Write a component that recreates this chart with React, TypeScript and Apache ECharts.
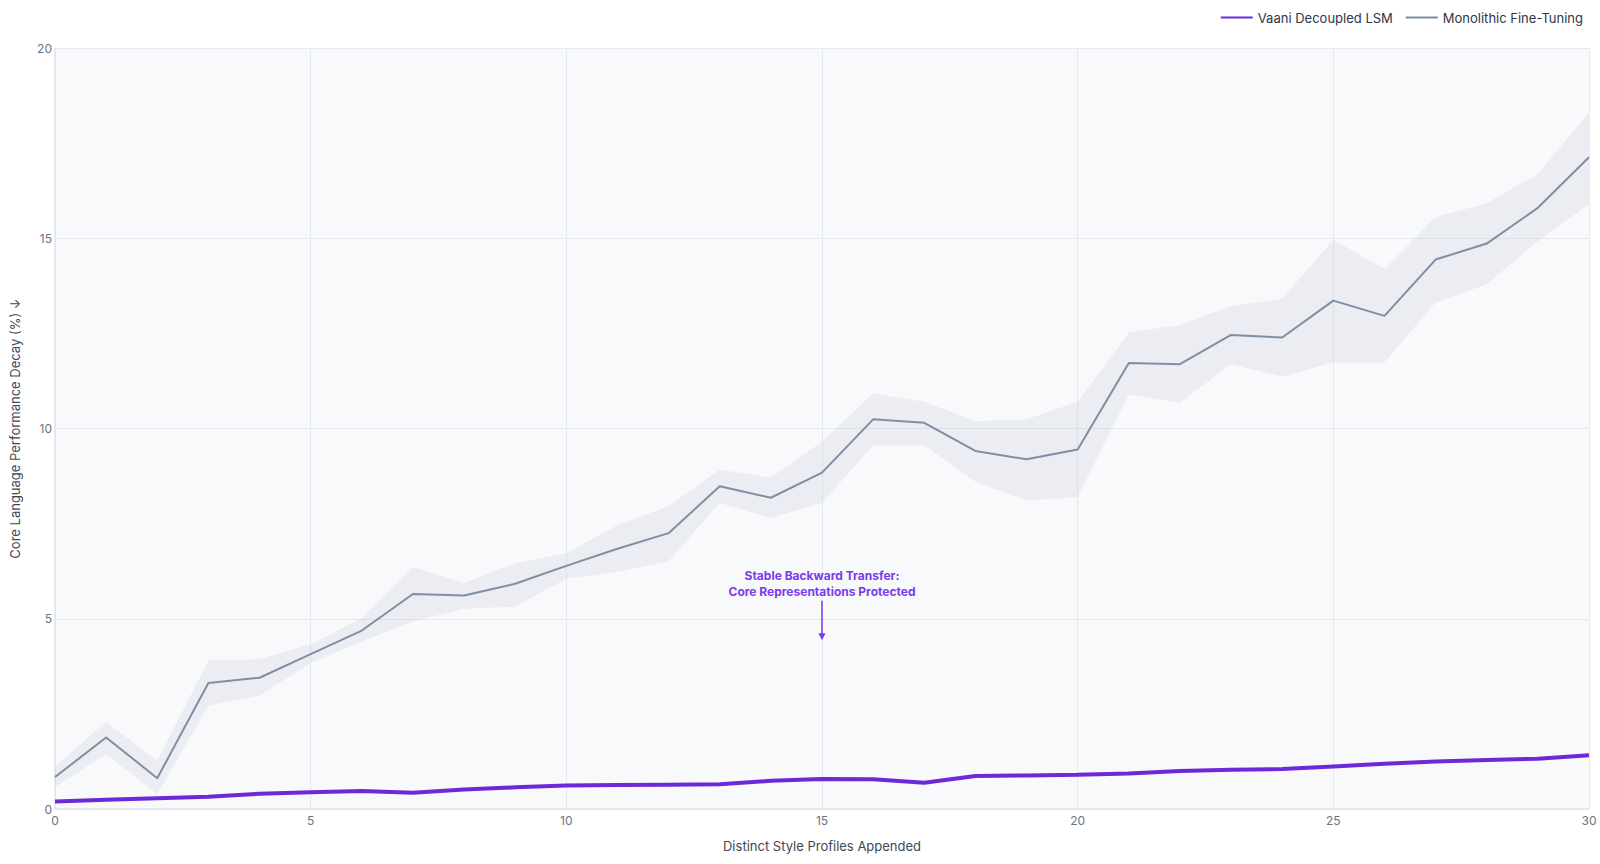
import React, { useEffect, useRef } from "react";
import * as echarts from "echarts";

const profiles = [0, 1, 2, 3, 4, 5, 6, 7, 8, 9, 10, 11, 12, 13, 14, 15, 16, 17, 18, 19, 20, 21, 22, 23, 24, 25, 26, 27, 28, 29, 30];

const vaaniDecay = [0.2, 0.24, 0.28, 0.32, 0.4, 0.44, 0.47, 0.43, 0.51, 0.57, 0.62, 0.63, 0.64, 0.65, 0.74, 0.79, 0.78, 0.69, 0.87, 0.88, 0.9, 0.93, 1.0, 1.03, 1.05, 1.12, 1.19, 1.25, 1.29, 1.32, 1.41];

const monoDecay = [0.84, 1.88, 0.81, 3.31, 3.45, 4.07, 4.69, 5.65, 5.61, 5.92, 6.39, 6.84, 7.25, 8.48, 8.18, 8.84, 10.24, 10.15, 9.41, 9.19, 9.45, 11.72, 11.69, 12.46, 12.39, 13.36, 12.96, 14.44, 14.86, 15.8, 17.13];

const monoUpper = [1.12, 2.29, 1.27, 3.9, 3.94, 4.32, 5.02, 6.36, 5.94, 6.46, 6.73, 7.46, 7.96, 8.92, 8.71, 9.65, 10.92, 10.7, 10.2, 10.24, 10.7, 12.52, 12.72, 13.22, 13.41, 14.96, 14.19, 15.56, 15.92, 16.69, 18.31];

const monoLower = [0.58, 1.44, 0.39, 2.72, 2.98, 3.84, 4.4, 4.93, 5.26, 5.32, 6.05, 6.23, 6.51, 8.04, 7.65, 8.04, 9.56, 9.56, 8.6, 8.11, 8.2, 10.89, 10.68, 11.69, 11.36, 11.74, 11.74, 13.31, 13.79, 14.92, 15.9];

const xTicks = { min: 0, max: 30, interval: 5 };
const yTicks = { min: 0, max: 20, interval: 5 };

const annotationText = ["Stable Backward Transfer:", "Core Representations Protected"];
const annotationX = 15;
const annotationFrom = 5.47;
const annotationTo = 4.53;

const FONT = "Inter, 'Noto Sans', sans-serif";
const PURPLE = "#6d28d9";
const PURPLE_TEXT = "#7c3aed";
const GRAY = "#7f8ea3";

export default function App() {
  const ref = useRef<HTMLDivElement>(null);

  useEffect(() => {
    document.body.style.margin = "0";
    if (!ref.current) return;
    const chart = echarts.init(ref.current, null, { renderer: "svg" });

    const pairs = (vals: number[]) => profiles.map((x, i) => [x, vals[i]]);

    chart.setOption({
      animation: false,
      backgroundColor: "#ffffff",
      textStyle: { fontFamily: FONT },
      grid: {
        left: 51,
        right: 11,
        top: 48,
        bottom: 55,
        show: true,
        backgroundColor: "#f8f9fb",
        borderWidth: 0,
      },
      legend: {
        right: 12,
        top: 6,
        itemWidth: 32,
        itemHeight: 14,
        itemGap: 12,
        itemStyle: { opacity: 0 },
        data: ["Vaani Decoupled LSM", "Monolithic Fine-Tuning"],
        textStyle: { fontSize: 13, color: "#2d3748", fontFamily: FONT },
      },
      xAxis: {
        type: "value",
        min: xTicks.min,
        max: xTicks.max,
        interval: xTicks.interval,
        name: "Distinct Style Profiles Appended",
        nameLocation: "middle",
        nameGap: 30,
        nameTextStyle: { fontSize: 13, color: "#3f4654", fontFamily: FONT },
        axisLine: { show: true, lineStyle: { color: "#e1e6ed", width: 1.5 } },
        axisTick: { show: false },
        axisLabel: { fontSize: 12, color: "#6b7280", margin: 5, fontFamily: FONT },
        splitLine: { show: true, lineStyle: { color: "#e6eaf0", width: 1 } },
      },
      yAxis: {
        type: "value",
        min: yTicks.min,
        max: yTicks.max,
        interval: yTicks.interval,
        name: "Core Language Performance Decay (%) ↓",
        nameLocation: "middle",
        nameGap: 34,
        nameTextStyle: { fontSize: 13, color: "#3f4654", fontFamily: FONT },
        axisLine: { show: true, lineStyle: { color: "#e1e6ed", width: 1.5 } },
        axisTick: { show: false },
        axisLabel: { fontSize: 12, color: "#6b7280", margin: 3, fontFamily: FONT },
        splitLine: { show: true, lineStyle: { color: "#e6eaf0", width: 1 } },
      },
      series: [
        {
          name: "band",
          type: "custom",
          silent: true,
          z: 1,
          data: profiles.map((x, i) => [x, monoLower[i], monoUpper[i]]),
          encode: { x: 0, y: [1, 2] },
          renderItem: (params: any, api: any) => {
            if (params.dataIndex !== 0) return null;
            const top = profiles.map((x, i) => api.coord([x, monoUpper[i]]));
            const bottom = profiles.map((x, i) => api.coord([x, monoLower[i]])).reverse();
            return {
              type: "polygon",
              shape: { points: top.concat(bottom) },
              style: { fill: "rgba(148,163,184,0.13)", stroke: "none" },
            };
          },
        },
        {
          name: "Monolithic Fine-Tuning",
          type: "line",
          data: pairs(monoDecay),
          showSymbol: false,
          symbol: "none",
          color: GRAY,
          lineStyle: { color: GRAY, width: 2 },
          z: 3,
        },
        {
          name: "Vaani Decoupled LSM",
          type: "line",
          data: pairs(vaaniDecay),
          showSymbol: false,
          symbol: "none",
          color: PURPLE,
          lineStyle: { color: PURPLE, width: 4 },
          z: 4,
          markLine: {
            silent: true,
            symbol: ["none", "triangle"],
            symbolSize: 7,
            lineStyle: { color: PURPLE_TEXT, width: 1.5, type: "solid" },
            label: {
              show: true,
              position: "start",
              distance: 1,
              formatter: annotationText.join("\n"),
              color: PURPLE_TEXT,
              fontWeight: "bold",
              fontSize: 12,
              lineHeight: 16,
              fontFamily: FONT,
              align: "center",
            },
            data: [[{ coord: [annotationX, annotationFrom] }, { coord: [annotationX, annotationTo] }]],
          },
        },
      ],
    });

    return () => chart.dispose();
  }, []);

  return (
    <div
      ref={ref}
      style={{ position: "fixed", left: 0, top: 0, width: "1600px", height: "864px" }}
    />
  );
}
